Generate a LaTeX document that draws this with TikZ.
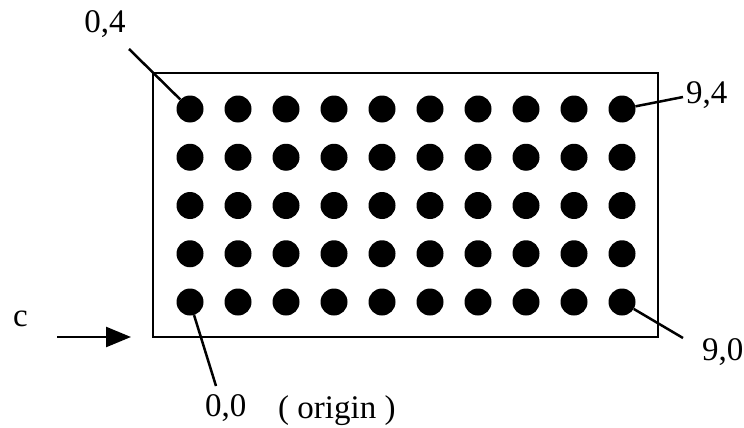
\documentclass[tikz,border=0pt]{standalone}
\usepackage{fontspec}
\setmainfont{Liberation Serif}
\usetikzlibrary{arrows.meta,positioning}

\begin{document}
\begin{tikzpicture}[
  x=1pt, y=-1pt,
  board/.style={draw, line width=2.5pt, minimum width=505pt, minimum height=264pt, inner sep=0pt},
  hole/.style={circle, fill=black, minimum size=27pt, inner sep=0pt},
  lbl/.style={inner sep=0pt, font=\fontsize{33}{36}\selectfont},
  lead/.style={line width=2.5pt},
  arr/.style={-{Triangle[length=25pt, width=20pt]}, line width=2.5pt}
]
\useasboundingbox (0,0) rectangle (744,428);
\node[board] (board) at (405.5,205) {};
% holes, column i = 0..9, row j = 0..4
\foreach \i in {0,...,9}
  \foreach \j in {0,...,4}
    \node[hole] (d-\i-\j) at ({190+48*\i},{302-48.25*\j}) {};

\node[lbl, anchor=base] (l04) at (105,33) {0,4};
\node[lbl, anchor=base west] (l94) at (686,103) {9,4};
\node[lbl, anchor=base west] (l90) at (702,360) {9,0};
\node[lbl, anchor=base west] (l00) at (205,416) {0,0};
\node[lbl, anchor=base west] (orig) at (278,418) {( origin )};
\node[lbl, anchor=base west] (c) at (13,326) {c};

\coordinate (e04) at (129,49);
\coordinate (e94) at (683,97);
\coordinate (e90) at (683,338);
\coordinate (e00) at (216,386);
\coordinate (cs) at (57,337);
\coordinate (ce) at (131,337);

\draw[lead] (e04) -- (d-0-4);
\draw[lead] (e94) -- (d-9-4);
\draw[lead] (e90) -- (d-9-0);
\draw[lead] (e00) -- (d-0-0);
\draw[arr] (cs) -- (ce);
\end{tikzpicture}
\end{document}
